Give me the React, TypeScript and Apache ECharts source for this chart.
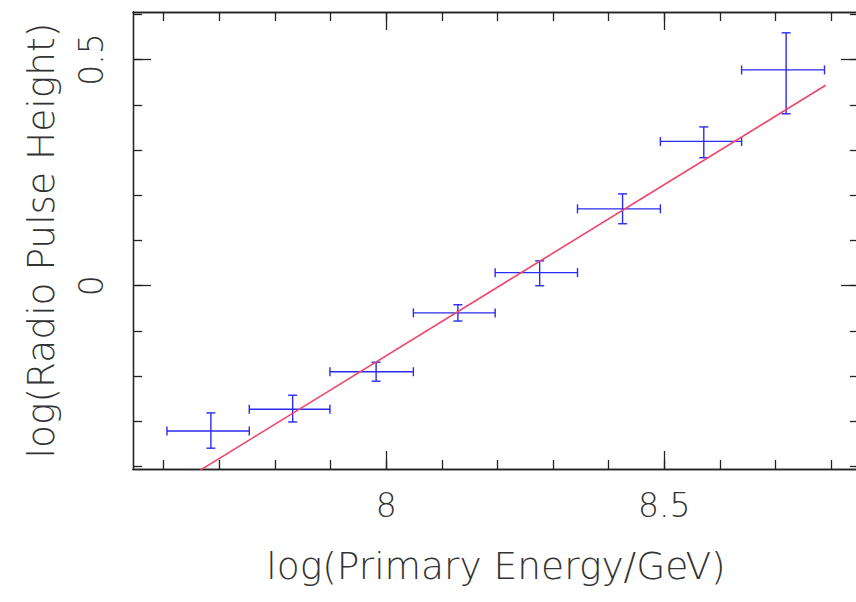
import React, { useEffect, useRef } from "react";
import * as echarts from "echarts";

// ---- data ----
const xCenter = [7.685, 7.832, 7.982, 8.129, 8.276, 8.425, 8.571, 8.719];
const xLow = [7.606, 7.754, 7.899, 8.049, 8.196, 8.344, 8.493, 8.639];
const xHigh = [7.754, 7.899, 8.049, 8.196, 8.344, 8.493, 8.639, 8.788];
const yCenter = [-0.321, -0.273, -0.19, -0.06, 0.029, 0.17, 0.319, 0.477];
const yLow = [-0.359, -0.301, -0.211, -0.078, 0.0, 0.137, 0.283, 0.38];
const yHigh = [-0.281, -0.242, -0.169, -0.042, 0.055, 0.203, 0.351, 0.559];

const fitX = [7.606, 8.79];
const fitY = [-0.453, 0.443];

const minorTicksX = [7.6, 7.7, 7.8, 7.9, 8.0, 8.1, 8.2, 8.3, 8.4, 8.5, 8.6, 8.7, 8.8];
const majorTicksX = [8, 8.5];
const minorTicksY = [-0.4, -0.3, -0.2, -0.1, 0, 0.1, 0.2, 0.3, 0.4, 0.5, 0.6];
const majorTicksY = [0, 0.5];

const xTitle = "log(Primary Energy/GeV)";
const yTitle = "log(Radio Pulse Height)";

const X_MIN = 7.545;
const X_MAX = 8.85;
const Y_MIN = -0.405;
const Y_MAX = 0.605;

const FONT = "DejaVu Sans";
const TEXT_COLOR = "#333333";
const FRAME_COLOR = "#222222";

function makeAxis(
  dim: "x" | "y",
  position: string,
  ticks: number[],
  len: number,
  labels: number[] | null,
  name: string | null
) {
  const ax: any = {
    type: "value",
    position,
    min: dim === "x" ? X_MIN : Y_MIN,
    max: dim === "x" ? X_MAX : Y_MAX,
    axisLine: { show: true, onZero: false, lineStyle: { color: FRAME_COLOR, width: 1.3 } },
    axisTick: {
      show: true,
      inside: true,
      length: len,
      customValues: ticks,
      lineStyle: { color: FRAME_COLOR, width: 1.3 },
    },
    splitLine: { show: false },
    axisLabel: labels
      ? {
          show: true,
          customValues: labels,
          formatter: (v: number) => String(v),
          fontFamily: FONT,
          fontWeight: 200,
          fontSize: 33,
          color: TEXT_COLOR,
          margin: dim === "x" ? 20 : 25,
          rotate: dim === "y" ? 90 : 0,
        }
      : { show: false },
  };
  if (name) {
    ax.name = name;
    ax.nameLocation = "middle";
    ax.nameGap = dim === "x" ? 78 : 73;
    ax.nameTextStyle = { fontFamily: FONT, fontWeight: 200, fontSize: 37.5, color: TEXT_COLOR };
  }
  return ax;
}

export default function App() {
  const ref = useRef<HTMLDivElement>(null);

  useEffect(() => {
    if (!ref.current) return;
    const chart = echarts.init(ref.current, null, { renderer: "svg" });

    const errData = xCenter.map((x, i) => [x, yCenter[i], xLow[i], xHigh[i], yLow[i], yHigh[i]]);
    const fitData = fitX.map((x, i) => [x, fitY[i]]);
    const blue = "#2a2af0";

    chart.setOption({
      animation: false,
      backgroundColor: "#ffffff",
      grid: {
        left: 133,
        top: 12,
        width: 726,
        height: 457,
        containLabel: false,
        outerBoundsMode: "none",
      },
      xAxis: [
        makeAxis("x", "bottom", majorTicksX, 18, majorTicksX, xTitle),
        makeAxis("x", "bottom", minorTicksX, 9, null, null),
        makeAxis("x", "top", majorTicksX, 18, null, null),
        makeAxis("x", "top", minorTicksX, 9, null, null),
      ],
      yAxis: [
        makeAxis("y", "left", majorTicksY, 18, majorTicksY, yTitle),
        makeAxis("y", "left", minorTicksY, 9, null, null),
        makeAxis("y", "right", majorTicksY, 18, null, null),
        makeAxis("y", "right", minorTicksY, 9, null, null),
      ],
      series: [
        {
          type: "line",
          xAxisIndex: 0,
          yAxisIndex: 0,
          data: fitData,
          showSymbol: false,
          symbol: "none",
          clip: true,
          lineStyle: { color: "#f0466a", width: 1.6 },
          silent: true,
        },
        {
          type: "custom",
          xAxisIndex: 0,
          yAxisIndex: 0,
          data: errData,
          silent: true,
          renderItem: (params: any, api: any) => {
            const c = api.coord([api.value(0), api.value(1)]);
            const l = api.coord([api.value(2), api.value(1)]);
            const r = api.coord([api.value(3), api.value(1)]);
            const b = api.coord([api.value(0), api.value(4)]);
            const t = api.coord([api.value(0), api.value(5)]);
            const cap = 4.5;
            const style = { stroke: blue, lineWidth: 1.4, fill: "none" };
            const ln = (x1: number, y1: number, x2: number, y2: number) => ({
              type: "line",
              shape: { x1, y1, x2, y2 },
              style,
            });
            return {
              type: "group",
              children: [
                ln(l[0], c[1], r[0], c[1]),
                ln(l[0], c[1] - cap, l[0], c[1] + cap),
                ln(r[0], c[1] - cap, r[0], c[1] + cap),
                ln(c[0], t[1], c[0], b[1]),
                ln(c[0] - cap, t[1], c[0] + cap, t[1]),
                ln(c[0] - cap, b[1], c[0] + cap, b[1]),
              ],
            };
          },
        },
      ],
    });

    return () => chart.dispose();
  }, []);

  return (
    <div
      style={{
        position: "fixed",
        left: 0,
        top: 0,
        width: 856,
        height: 602,
        overflow: "hidden",
        background: "#ffffff",
      }}
    >
      <div ref={ref} style={{ width: 870, height: 602 }} />
    </div>
  );
}
